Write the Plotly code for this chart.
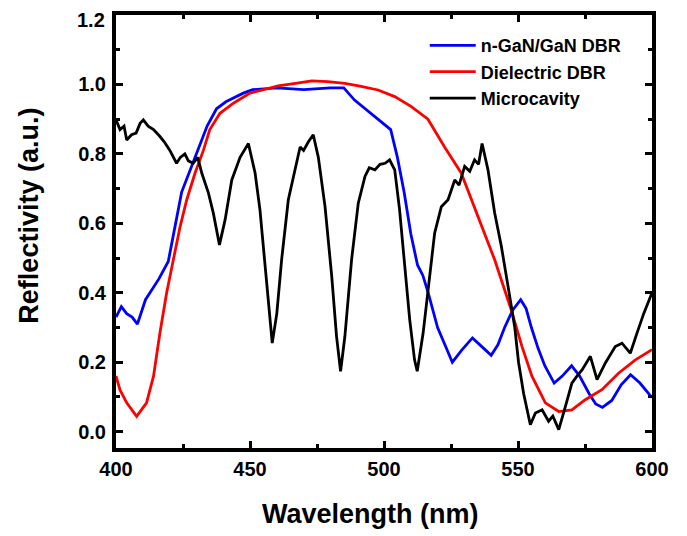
import plotly.graph_objects as go

# ---- data ----
wl_blue = [400, 402, 404, 406, 408, 411, 416, 419.5, 422.5, 424.5, 427.5, 430.5, 434, 437.5, 441,
           447.5, 451, 460, 470, 480, 485, 489, 493, 498, 502.5, 505, 507.5, 510, 512.5, 514.5,
           516.5, 520, 525.5, 529, 533, 536.5, 540, 542.5, 545, 548, 551, 553, 555, 557.5, 560,
           563.5, 566.5, 570, 573, 576.5, 579, 581.5, 585, 588.5, 592, 595.5, 600]
r_blue = [0.33, 0.36, 0.34, 0.33, 0.31, 0.38, 0.44, 0.49, 0.61, 0.69, 0.75, 0.81, 0.88, 0.93, 0.95,
          0.975, 0.985, 0.99, 0.985, 0.99, 0.99, 0.955, 0.93, 0.90, 0.87, 0.79, 0.69, 0.57, 0.48, 0.45,
          0.40, 0.30, 0.20, 0.235, 0.27, 0.245, 0.22, 0.25, 0.30, 0.35, 0.38, 0.355, 0.30, 0.24, 0.19,
          0.14, 0.16, 0.19, 0.16, 0.11, 0.08, 0.07, 0.09, 0.135, 0.164, 0.14, 0.098]

wl_red = [400, 401.5, 404, 407.7, 411.4, 414, 416.4, 418.9, 421.4, 423.9, 426.4, 429.5, 432.6, 435,
          438.8, 443.8, 450, 454.4, 460.5, 467, 473, 479, 485.4, 491, 497.8, 504, 510.2, 516.4,
          522.6, 528.8, 535.1, 541.3, 547.5, 551.5, 555.2, 560.2, 565.2, 570.1, 575.1, 581.3,
          587.6, 593.8, 600]
r_red = [0.16, 0.12, 0.083, 0.044, 0.083, 0.16, 0.285, 0.40, 0.495, 0.59, 0.668, 0.745, 0.81, 0.87,
         0.917, 0.946, 0.975, 0.984, 0.996, 1.003, 1.01, 1.008, 1.003, 0.995, 0.984, 0.965, 0.936, 0.90,
         0.82, 0.745, 0.62, 0.495, 0.35, 0.245, 0.16, 0.083, 0.058, 0.063, 0.092, 0.121,
         0.169, 0.207, 0.236]

wl_black = [400, 401.5, 403, 404, 405.8, 407.5, 409, 410.2, 412, 414, 416.4, 418, 420.1, 422.6, 424,
            425.7, 427, 428.8, 430.5, 432, 434.5, 436.3, 438.6, 440.7, 443.2, 446.3, 449.4, 451.9,
            453.7, 455.6, 457.5, 458.3, 460, 461.8, 464.3, 466.8, 468.7, 470, 471.8, 473.6, 475.5,
            478, 480.5, 482.3, 483.8, 485.4, 487.9, 490.4, 492.9, 494.5, 496.6, 498.5, 500.4, 502.1,
            504, 505.8, 507.7, 509.6, 511.4, 512.4, 514.6, 516.4, 518.9, 521.4, 523.9, 526.4, 528,
            530.1, 532, 533.8, 535.3, 536.6, 538.8, 541.3, 543.8, 546.3, 548.8, 550.2, 552.1, 554.6,
            556.5, 559, 561.4, 563, 565.2, 567.7, 570.1, 572, 573.9, 577, 579.5, 582.6, 586.3, 588.8,
            591.9, 594.4, 596.9, 600]
r_black = [0.898, 0.87, 0.88, 0.84, 0.855, 0.86, 0.888, 0.898, 0.88, 0.87, 0.85, 0.835, 0.81, 0.773,
           0.79, 0.80, 0.78, 0.773, 0.79, 0.745, 0.687, 0.63, 0.538, 0.61, 0.725, 0.79, 0.83, 0.745,
           0.64, 0.476, 0.313, 0.255, 0.34, 0.495, 0.668, 0.754, 0.82, 0.81, 0.835, 0.855, 0.79,
           0.648, 0.447, 0.274, 0.174, 0.274, 0.495, 0.658, 0.735, 0.76, 0.754, 0.77, 0.773, 0.783,
           0.754, 0.64, 0.476, 0.322, 0.207, 0.174, 0.284, 0.40, 0.572, 0.648, 0.668, 0.725, 0.71,
           0.764, 0.75, 0.783, 0.77, 0.83, 0.754, 0.63, 0.533, 0.418, 0.30, 0.20, 0.11, 0.02,
           0.054, 0.063, 0.03, 0.045, 0.006, 0.073, 0.14, 0.16, 0.178, 0.217, 0.15, 0.198, 0.245, 0.255,
           0.226, 0.284, 0.34, 0.40]

series_names = ["n-GaN/GaN DBR", "Dielectric DBR", "Microcavity"]
x_ticks = [400, 450, 500, 550, 600]
y_ticks = [0.0, 0.2, 0.4, 0.6, 0.8, 1.0, 1.2]
x_title = "Wavelength (nm)"
y_title = "Reflectivity (a.u.)"

FONT = "Liberation Sans, Arial, sans-serif"

fig = go.Figure()
for wl, r, name, col in [(wl_blue, r_blue, series_names[0], "#0000ff"),
                         (wl_red, r_red, series_names[1], "#ff0000"),
                         (wl_black, r_black, series_names[2], "#000000")]:
    fig.add_trace(go.Scatter(x=wl, y=r, mode="lines", name=name,
                             line=dict(color=col, width=2.8)))

tick_font = dict(family=FONT, size=20, color="black", weight="bold")
axis_common = dict(showline=True, linecolor="black", linewidth=4, mirror="allticks",
                   ticks="inside", ticklen=7, tickwidth=3, tickcolor="black",
                   showgrid=False, zeroline=False, automargin=False,
                   tickfont=tick_font,
                   minor=dict(ticks="inside", ticklen=4, tickwidth=2.5, tickcolor="black"))

# the top label (1.2) sits at the very edge of the page, so it is drawn as an
# annotation nudged a few px down to stay inside the page
y_labels = [f"{v:.1f}" for v in y_ticks]
y_ticktext = y_labels[:-1] + [""]

fig.update_xaxes(range=[400, 600], tickvals=x_ticks, ticktext=[str(v) for v in x_ticks],
                 minor_dtick=25, minor_tick0=400, ticklabelstandoff=0,
                 **axis_common)
fig.update_yaxes(range=[-0.047, 1.2], tickvals=y_ticks, ticktext=y_ticktext,
                 minor_dtick=0.1, minor_tick0=0, ticklabelstandoff=2,
                 **axis_common)

# page has an 8px body margin: plot area lands at x 116..652, y 15..448
fig.update_layout(
    width=687, height=536,
    margin=dict(l=108, r=43, t=7, b=96),
    paper_bgcolor="white", plot_bgcolor="white",
    showlegend=True,
    legend=dict(x=0.576, y=0.972, xanchor="left", yanchor="top",
                bgcolor="rgba(0,0,0,0)", borderwidth=0, itemwidth=46,
                tracegroupgap=0,
                font=dict(family=FONT, size=18, color="black", weight="bold")),
    annotations=[
        dict(text=x_title, xref="paper", yref="paper", x=0.474, y=-0.1515,
             xanchor="center", yanchor="middle", showarrow=False,
             font=dict(family=FONT, size=27, color="black", weight="bold")),
        dict(text=y_title, xref="paper", yref="paper", x=-0.162, y=0.537,
             xanchor="center", yanchor="middle", showarrow=False, textangle=-90,
             font=dict(family=FONT, size=27, color="black", weight="bold")),
        dict(text=y_labels[-1], xref="paper", yref="y", x=0, y=y_ticks[-1],
             xanchor="right", yanchor="middle", xshift=-9, yshift=-5, showarrow=False,
             font=tick_font),
    ],
)

fig.write_html("out.html")
